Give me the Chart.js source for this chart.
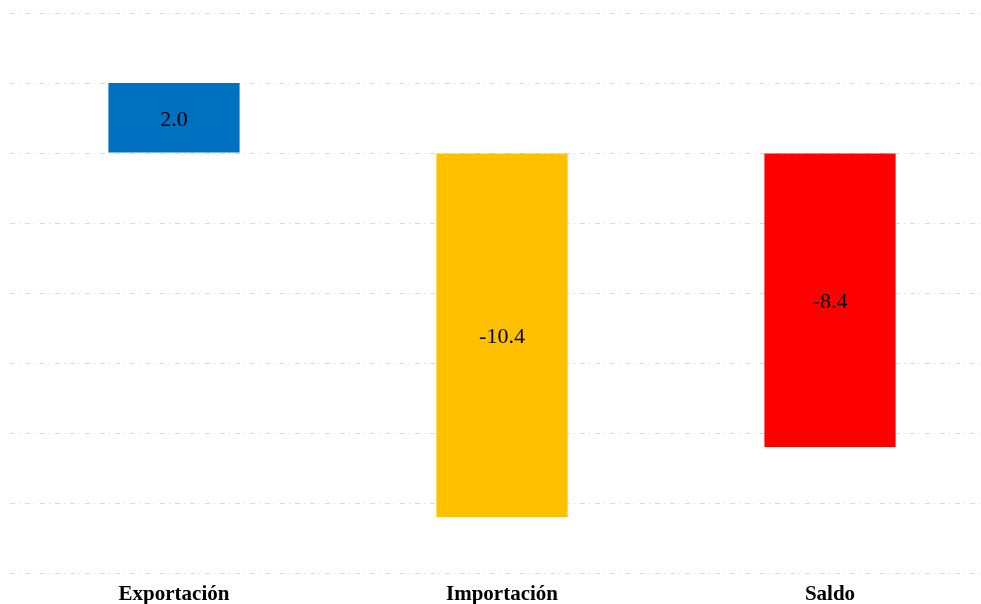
<!DOCTYPE html>
<html><head><meta charset="utf-8">
<script src="https://cdn.jsdelivr.net/npm/chart.js@4.4.0/dist/chart.umd.min.js"></script>
<style>html,body{margin:0;padding:0;background:#fff;overflow:hidden;width:981px;height:604px}canvas{display:block}</style>
</head><body>
<canvas id="c" width="994" height="616" style="width:994px;height:616px"></canvas>
<script>
const categories = ["Exportación", "Importación", "Saldo"];
const values = [2.0, -10.4, -8.4];
const barColors = ["#0070C0", "#FFC000", "#FF0000"];
const yTicks = [4, 2, 0, -2, -4, -6, -8, -10, -12];

const labelPlugin = {
  id: 'centerLabels',
  afterDatasetsDraw(chart) {
    const ctx = chart.ctx;
    const meta = chart.getDatasetMeta(0);
    ctx.save();
    ctx.font = '22px "Liberation Serif", "Times New Roman", serif';
    ctx.fillStyle = '#000';
    ctx.textAlign = 'center';
    ctx.textBaseline = 'middle';
    meta.data.forEach((bar, i) => {
      const mid = (bar.y + bar.base) / 2;
      ctx.fillText(values[i].toFixed(1), bar.x, mid + 2);
    });
    ctx.restore();
  }
};

new Chart(document.getElementById('c'), {
  type: 'bar',
  data: {
    labels: categories,
    datasets: [{
      data: values,
      backgroundColor: barColors,
      borderWidth: 0,
      barPercentage: 0.4,
      categoryPercentage: 1.0
    }]
  },
  options: {
    responsive: false,
    animation: false,
    layout: { padding: { top: 13, left: 10, right: 0, bottom: 0 } },
    plugins: { legend: { display: false }, tooltip: { enabled: false } },
    scales: {
      x: {
        grid: { display: false, drawTicks: false },
        border: { display: false },
        ticks: {
          color: '#000',
          padding: 11,
          font: { family: '"Liberation Serif", "Times New Roman", serif', size: 21, weight: 'bold', lineHeight: 1 }
        }
      },
      y: {
        min: -12, max: 4,
        afterBuildTicks(axis) { axis.ticks = yTicks.map(v => ({ value: v })); },
        grid: { color: '#d9d9d9', lineWidth: 1, drawTicks: false },
        border: { display: false, dash: [5, 4, 1, 5] },
        ticks: { display: false }
      }
    }
  },
  plugins: [labelPlugin]
});
</script>
</body></html>
